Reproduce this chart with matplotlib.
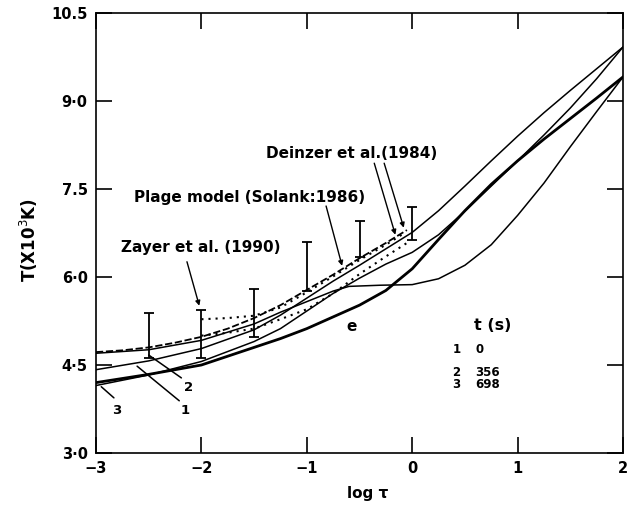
import matplotlib
matplotlib.use("Agg")
import matplotlib.pyplot as plt

# ---- data ----
x_c1 = [-3, -2.5, -2, -1.5, -1.25, -1, -0.75, -0.5, -0.25, 0, 0.25, 0.5, 0.75, 1, 1.25, 1.5, 1.75, 2]
y_c1 = [4.42, 4.57, 4.78, 5.10, 5.35, 5.64, 5.93, 6.20, 6.48, 6.76, 7.13, 7.55, 7.98, 8.40, 8.80, 9.18, 9.55, 9.92]

x_c2 = [-3, -2.5, -2, -1.5, -1.25, -1, -0.75, -0.6, -0.3, 0, 0.25, 0.5, 0.75, 1, 1.25, 1.5, 1.75, 2]
y_c2 = [4.70, 4.76, 4.92, 5.20, 5.40, 5.58, 5.76, 5.84, 5.86, 5.87, 5.97, 6.20, 6.55, 7.05, 7.60, 8.22, 8.82, 9.41]

x_c3 = [-3, -2.5, -2, -1.5, -1.25, -1, -0.75, -0.5, -0.25, 0, 0.25, 0.5, 0.75, 1, 1.25, 1.5, 1.75, 2]
y_c3 = [4.15, 4.33, 4.56, 4.90, 5.12, 5.42, 5.72, 5.98, 6.22, 6.42, 6.72, 7.12, 7.55, 7.98, 8.42, 8.88, 9.38, 9.92]

x_e = [-3, -2.5, -2, -1.5, -1.25, -1, -0.75, -0.5, -0.25, 0, 0.25, 0.5, 0.75, 1, 1.25, 1.5, 1.75, 2]
y_e = [4.20, 4.34, 4.50, 4.80, 4.95, 5.12, 5.32, 5.52, 5.77, 6.14, 6.64, 7.13, 7.58, 7.98, 8.35, 8.70, 9.05, 9.41]

x_deinzer = [-3, -2.75, -2.5, -2.25, -2, -1.75, -1.5, -1.25, -1, -0.75, -0.5, -0.25, -0.05]
y_deinzer = [4.72, 4.75, 4.80, 4.88, 4.98, 5.12, 5.30, 5.52, 5.78, 6.04, 6.32, 6.58, 6.80]

x_zayer = [-2, -1.75, -1.5, -1.25, -1, -0.75, -0.5, -0.25, -0.1]
y_zayer = [5.28, 5.30, 5.34, 5.48, 5.74, 6.01, 6.29, 6.55, 6.72]

x_plage = [-2, -1.75, -1.5, -1.25, -1, -0.75, -0.5, -0.25, -0.05]
y_plage = [5.00, 5.05, 5.12, 5.28, 5.45, 5.72, 6.05, 6.35, 6.58]

x_err = [-2.5, -2, -1.5, -1, -0.5, 0]
y_err_low = [4.62, 4.62, 4.98, 5.76, 6.34, 6.63]
y_err_high = [5.39, 5.44, 5.80, 6.60, 6.95, 7.19]

x_ticks = [-3, -2, -1, 0, 1, 2]
x_ticklabels = ["\u22123", "\u22122", "\u22121", "0", "1", "2"]
y_ticks = [3.0, 4.5, 6.0, 7.5, 9.0, 10.5]
y_ticklabels = ["3\u00b70", "4\u00b75", "6\u00b70", "7.5", "9\u00b70", "10.5"]

legend_ids = ["1", "2", "3"]
legend_times = ["0", "356", "698"]

# ---- figure ----
W, H = 627, 513
fig = plt.figure(figsize=(W / 100, H / 100), dpi=100)
ax = fig.add_axes([96 / W, 1 - 453 / H, (623 - 96) / W, (453 - 13) / H])

k = "black"
ax.plot(x_c1, y_c1, color=k, lw=1.1)
ax.plot(x_c2, y_c2, color=k, lw=1.1)
ax.plot(x_c3, y_c3, color=k, lw=1.1)
ax.plot(x_e, y_e, color=k, lw=2.0)
ax.plot(x_deinzer, y_deinzer, color=k, lw=1.3, dashes=(4, 1.5))
ax.plot(x_zayer, y_zayer, color=k, lw=1.5, ls=(0, (1, 2.4)))
ax.plot(x_plage, y_plage, color=k, lw=1.5, ls=(0, (1, 2.4)))

mid = [(a + b) / 2 for a, b in zip(y_err_low, y_err_high)]
err = [(b - a) / 2 for a, b in zip(y_err_low, y_err_high)]
ax.errorbar(x_err, mid, yerr=err, fmt="none", ecolor=k, elinewidth=1.3,
            capsize=3.5, capthick=1.3)

ax.set_xlim(-3, 2)
ax.set_ylim(3.0, 10.5)
ax.set_xticks(x_ticks)
ax.set_xticklabels(x_ticklabels)
ax.set_yticks(y_ticks)
ax.set_yticklabels(y_ticklabels)
ax.tick_params(direction="in", length=11.5, width=1.2, top=True, right=True,
               labelsize=10.5, pad=6)
for lab in ax.get_xticklabels() + ax.get_yticklabels():
    lab.set_fontweight("bold")
for s in ax.spines.values():
    s.set_linewidth(1.2)

ax.set_xlabel("log \u03c4", fontsize=11, fontweight="bold")
ax.xaxis.set_label_coords(0.515, -0.075)
ax.set_ylabel("T(X10$^3$K)", fontsize=12, fontweight="bold")
ax.yaxis.set_label_coords(-0.106, 0.485)

fs = 11
ax.text(-1.387, 8.11, "Deinzer et al.(1984)", fontsize=fs, fontweight="bold", va="center", ha="left")
ax.text(-2.64, 7.35, "Plage model (Solank:1986)", fontsize=fs, fontweight="bold", va="center", ha="left")
ax.text(-2.76, 6.51, "Zayer et al. (1990)", fontsize=fs, fontweight="bold", va="center", ha="left")

ap = dict(arrowstyle="-|>", color=k, lw=1.0, mutation_scale=7, shrinkA=0, shrinkB=0)
ax.annotate("", xy=(-0.16, 6.72), xytext=(-0.36, 7.94), arrowprops=ap)
ax.annotate("", xy=(-0.08, 6.84), xytext=(-0.266, 7.94), arrowprops=ap)
ax.annotate("", xy=(-0.665, 6.19), xytext=(-0.817, 7.21), arrowprops=ap)
ax.annotate("", xy=(-2.02, 5.51), xytext=(-2.137, 6.26), arrowprops=ap)

lp = dict(arrowstyle="-", color=k, lw=1.1, shrinkA=0, shrinkB=0)
ax.annotate("", xy=(-2.50, 4.67), xytext=(-2.19, 4.28), arrowprops=lp)
ax.annotate("", xy=(-2.61, 4.48), xytext=(-2.21, 3.89), arrowprops=lp)
ax.annotate("", xy=(-2.95, 4.13), xytext=(-2.83, 3.94), arrowprops=lp)
ax.text(-2.118, 4.11, "2", fontsize=9.5, fontweight="bold", ha="center", va="center")
ax.text(-2.156, 3.73, "1", fontsize=9.5, fontweight="bold", ha="center", va="center")
ax.text(-2.80, 3.73, "3", fontsize=9.5, fontweight="bold", ha="center", va="center")

ax.text(-0.58, 5.15, "e", fontsize=11, fontweight="bold", ha="center", va="center")
ax.text(0.76, 5.18, "t (s)", fontsize=11.5, fontweight="bold", ha="center", va="center")
y_leg = [4.76, 4.38, 4.16]
for yi, i_d, t in zip(y_leg, legend_ids, legend_times):
    ax.text(0.42, yi, i_d, fontsize=8.5, fontweight="bold", ha="center", va="center")
    ax.text(0.60, yi, t, fontsize=8.5, fontweight="bold", ha="left", va="center")

fig.savefig("out.png", dpi=100)
